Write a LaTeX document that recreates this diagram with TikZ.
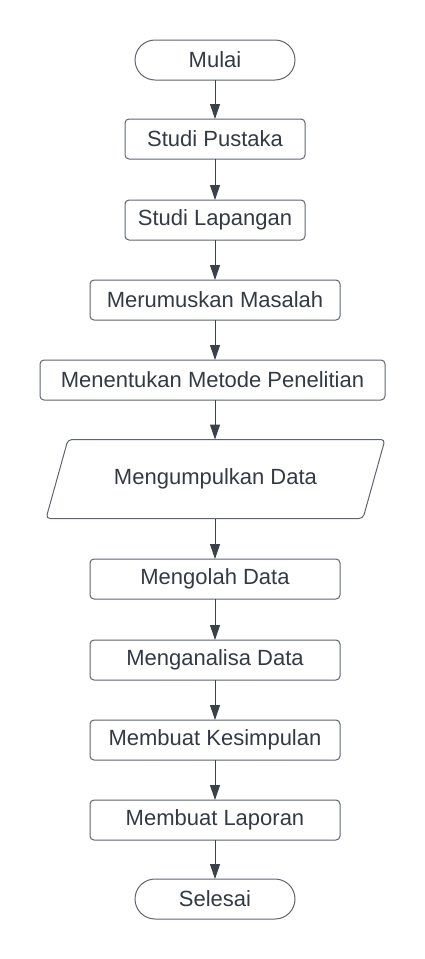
\documentclass[tikz,border=0pt]{standalone}
\usepackage{fontspec}
\setmainfont{Liberation Sans}
\usetikzlibrary{shapes.misc,arrows.meta}
\definecolor{edge}{HTML}{5E6570}
\definecolor{arrowc}{HTML}{3A414A}
\definecolor{txt}{HTML}{333A45}
\tikzset{
  base/.style={draw=edge, line width=1pt, text=txt, inner sep=0pt, outer sep=0pt,
    font=\fontsize{22}{26}\selectfont, minimum height=40pt},
  term/.style={base, rounded rectangle, minimum width=160pt},
  proc/.style={base, rectangle, rounded corners=4pt},
  io/.style={base, draw=none, rectangle, minimum width=339pt, minimum height=79pt},
  ioline/.style={draw=edge, line width=1pt, rounded corners=4pt},
  arr/.style={draw=arrowc, line width=1pt, -{Triangle[length=15pt,width=10pt]}, arrowc}
}
\begin{document}
\begin{tikzpicture}[x=1pt,y=-1pt]
\useasboundingbox (0,0) rectangle (425,959);
\node[term] (mulai) at (215,60) {Mulai};
\node[proc, minimum width=180pt] (pustaka) at (215,139) {Studi Pustaka};
\node[proc, minimum width=180pt] (lapangan) at (215,220) {Studi Lapangan};
\node[proc, minimum width=250pt] (masalah) at (215,300) {Merumuskan Masalah};
\node[proc, minimum width=345pt] (metode) at (212.5,380) {Menentukan Metode Penelitian};
\node[io] (kumpul) at (215.5,479) {Mengumpulkan Data};
\draw[ioline] ([xshift=22pt]kumpul.north west) -- (kumpul.north east)
  -- ([xshift=-22pt]kumpul.south east) -- (kumpul.south west) -- cycle;
\node[proc, minimum width=250pt] (olah) at (215,579) {Mengolah Data};
\node[proc, minimum width=250pt] (analisa) at (215,660) {Menganalisa Data};
\node[proc, minimum width=250pt] (simpul) at (215,740) {Membuat Kesimpulan};
\node[proc, minimum width=250pt] (laporan) at (215,820) {Membuat Laporan};
\node[term] (selesai) at (215,899) {Selesai};
\draw[arr] (mulai.south) -- (pustaka.north);
\draw[arr] (pustaka.south) -- (lapangan.north);
\draw[arr] (lapangan.south) -- (masalah.north);
\draw[arr] (masalah.south) -- (metode.north -| masalah.south);
\draw[arr] (metode.south -| masalah.south) -- (kumpul.north -| masalah.south);
\draw[arr] (kumpul.south -| masalah.south) -- (olah.north);
\draw[arr] (olah.south) -- (analisa.north);
\draw[arr] (analisa.south) -- (simpul.north);
\draw[arr] (simpul.south) -- (laporan.north);
\draw[arr] (laporan.south) -- (selesai.north);
\end{tikzpicture}
\end{document}
